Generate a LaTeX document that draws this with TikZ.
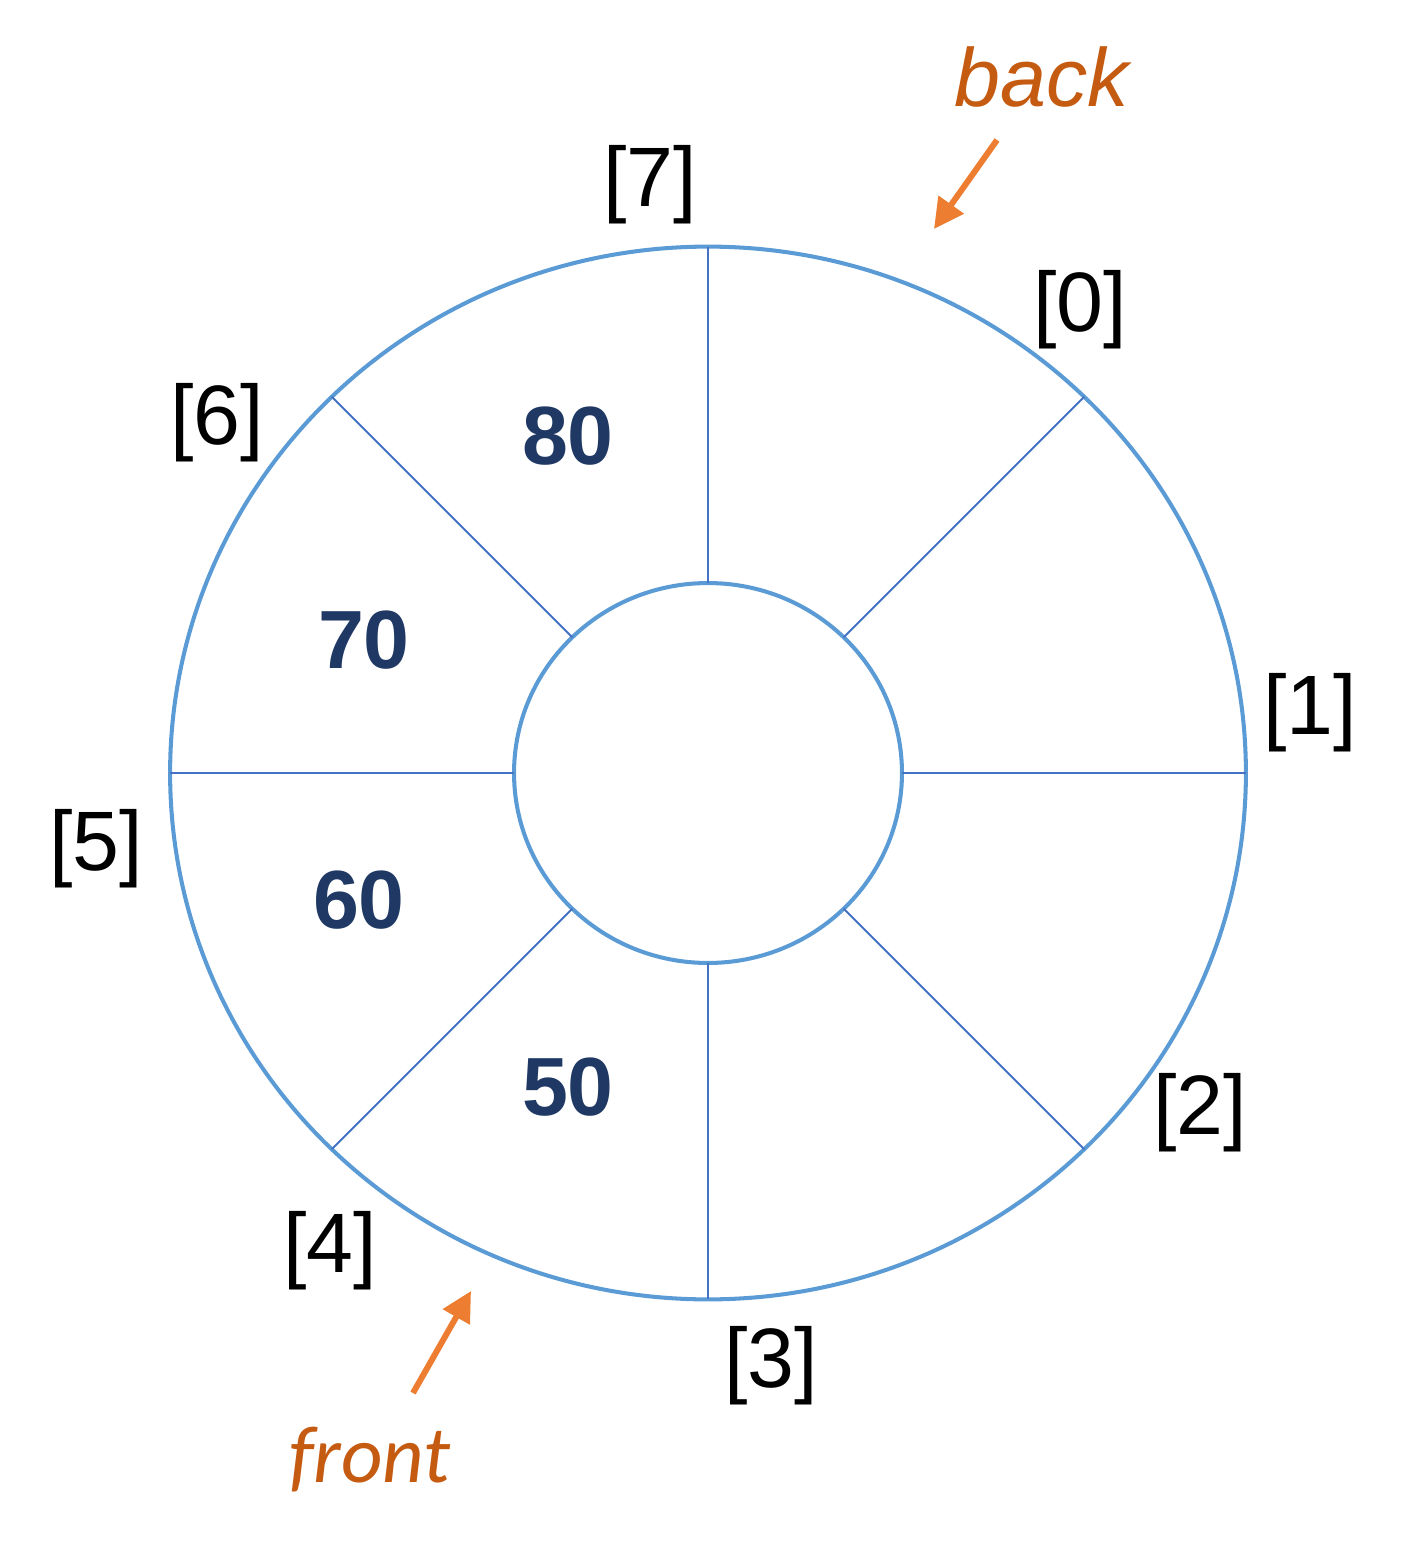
\documentclass[tikz,border=0pt]{standalone}
\usepackage{fontspec}
\setmainfont{Liberation Sans}
\newfontfamily\carlito{Carlito}
\usepackage{tikz}
\usetikzlibrary{arrows.meta,shapes.geometric}

\definecolor{ringblue}{HTML}{5B9BD5}
\definecolor{spokeblue}{HTML}{4472C4}
\definecolor{valnavy}{HTML}{1F3864}
\definecolor{ptrorange}{HTML}{ED7D31}
\definecolor{ptrtext}{HTML}{C55A11}

\begin{document}
\begin{tikzpicture}[x=0.02cm,y=-0.02cm,
    ring/.style={ellipse,draw=ringblue,line width=2.3pt,inner sep=0pt,outer sep=0pt},
    spoke/.style={draw=spokeblue,line width=1.1pt},
    idx/.style={inner sep=0pt,font=\fontsize{48}{58}\selectfont},
    val/.style={inner sep=0pt,text=valnavy,font=\fontsize{47}{56}\selectfont\bfseries},
    ptr/.style={inner sep=0pt,text=ptrtext,font=\fontsize{47}{56}\selectfont\itshape},
    ptrarrow/.style={draw=ptrorange,line width=3.4pt,-{Triangle[length=17pt,width=17pt]}}]
    \useasboundingbox (0,0) rectangle (1414,1558);

    \coordinate (c) at (708,773);
    \node[ring, minimum width=21.52cm, minimum height=21.06cm] (outer) at (c){};
    \node[ring, minimum width=7.76cm, minimum height=7.6cm]    (inner) at (c){};

    \foreach \a in {0,45,...,315}
      \path[spoke] (inner.\a) -- (outer.\a);

    \node[idx] (i7) at (650,185){[7]};
    \node[idx] (i0) at (1080,310){[0]};
    \node[idx] (i1) at (1310,713){[1]};
    \node[idx] (i2) at (1200,1113){[2]};
    \node[idx] (i3) at (771,1366){[3]};
    \node[idx] (i4) at (330,1251){[4]};
    \node[idx] (i5) at (96,849){[5]};
    \node[idx] (i6) at (217,423){[6]};

    \node[val] (v80) at (568,436){80};
    \node[val] (v70) at (364,640){70};
    \node[val] (v60) at (359,900){60};
    \node[val] (v50) at (568,1087){50};

    \node[ptr] (back) at (1042,77){back};
    \node[ptr, font=\fontsize{46}{55}\selectfont\carlito\itshape] (front) at (370,1460){front};

    \coordinate (backtail)  at (997,140);
    \coordinate (backhead)  at (934,229);
    \coordinate (fronttail) at (413,1393);
    \coordinate (fronthead) at (471,1291);

    \path[ptrarrow] (backtail) -- (backhead);
    \path[ptrarrow] (fronttail) -- (fronthead);
  \end{tikzpicture}
\end{document}
